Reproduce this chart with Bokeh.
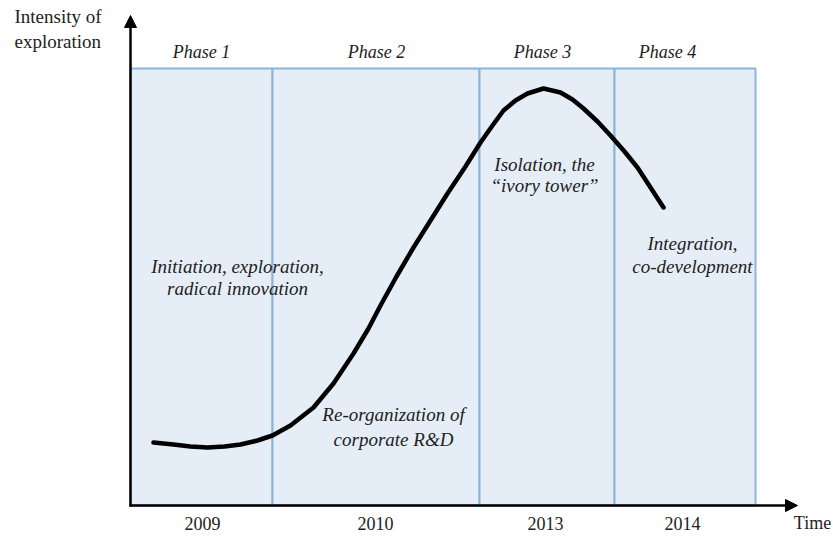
from bokeh.plotting import figure
from bokeh.models import Range1d, Arrow, NormalHead
from bokeh.core.properties import value
from bokeh.embed import file_html
from bokeh.resources import INLINE

# ---- data ----
phase_names = ["Phase 1", "Phase 2", "Phase 3", "Phase 4"]
phase_bounds = [130, 272, 479, 614, 755]
phase_top = 68
phase_bottom = 505
phase_label_x = [201, 376, 542, 667]
years = ["2009", "2010", "2013", "2014"]
year_x = [202, 375, 545, 682]

curve_x = [153, 173, 190, 207, 224, 240, 257, 272, 290, 313, 333, 353, 368, 380, 396,
           413, 430, 447, 465, 480, 492, 503, 515, 527, 543, 560, 572, 583, 597, 610,
           624, 637, 650, 663]
curve_y = [442, 444, 446, 447, 446, 444, 440, 435, 425, 407, 383, 353, 328, 305, 276,
           247, 220, 193, 166, 142, 125, 110, 100, 93, 88, 92, 99, 108, 121, 135,
           151, 167, 187, 207]

notes = ["Initiation, exploration,", "radical innovation",
         "Re-organization of", "corporate R&D",
         "Isolation, the", "\u201civory tower\u201d",
         "Integration,", "co-development"]
note_x = [237, 237, 393, 393, 544, 544, 692, 692]
note_y = [266, 288, 414, 439, 164, 185, 243, 266]

W, H = 833, 541
p = figure(width=W, height=H, output_backend="svg", toolbar_location=None,
           x_range=Range1d(0, W), y_range=Range1d(H, 0),
           min_border=0, min_border_left=0, min_border_right=0,
           min_border_top=0, min_border_bottom=0)
p.axis.visible = False
p.grid.visible = False
p.outline_line_color = None
p.background_fill_color = "white"

# phase panels
lefts = phase_bounds[:-1]
rights = phase_bounds[1:]
p.quad(left=lefts, right=rights, top=[phase_top] * 4, bottom=[phase_bottom] * 4,
       fill_color="#e5eef6", line_color="#8cb3da", line_width=2)

# curve
p.line(curve_x, curve_y, line_color="black", line_width=4.5,
       line_cap="round", line_join="round")

serif = value("Liberation Serif")
ink = "#222222"
# phase labels
p.text(x=phase_label_x, y=[51] * 4, text=phase_names, text_font=serif,
       text_font_style="italic", text_font_size="18px", text_align="center",
       text_baseline="middle", text_color=ink)
# year labels
p.text(x=year_x, y=[523] * 4, text=years, text_font=serif,
       text_font_size="18px", text_align="center", text_baseline="middle",
       text_color=ink)
p.text(x=[812], y=[522], text=["Time"], text_font=serif, text_font_size="18px",
       text_align="center", text_baseline="middle", text_color=ink)
p.text(x=[14, 14], y=[16, 41], text=["Intensity of", "exploration"], text_font=serif,
       text_font_size="19px", text_align="left", text_baseline="middle",
       text_color=ink)
# annotations
p.text(x=note_x, y=note_y, text=notes, text_font=serif, text_font_style="italic",
       text_font_size="19px", text_align="center", text_baseline="middle",
       text_color=ink)

# axes arrows
p.add_layout(Arrow(x_start=130, y_start=506, x_end=130, y_end=15,
                   line_color="black", line_width=2.5,
                   end=NormalHead(size=12, fill_color="black", line_color="black")))
p.add_layout(Arrow(x_start=129, y_start=505, x_end=797, y_end=505,
                   line_color="black", line_width=2.5,
                   end=NormalHead(size=12, fill_color="black", line_color="black")))

open("out.html", "w").write(file_html(p, INLINE))
